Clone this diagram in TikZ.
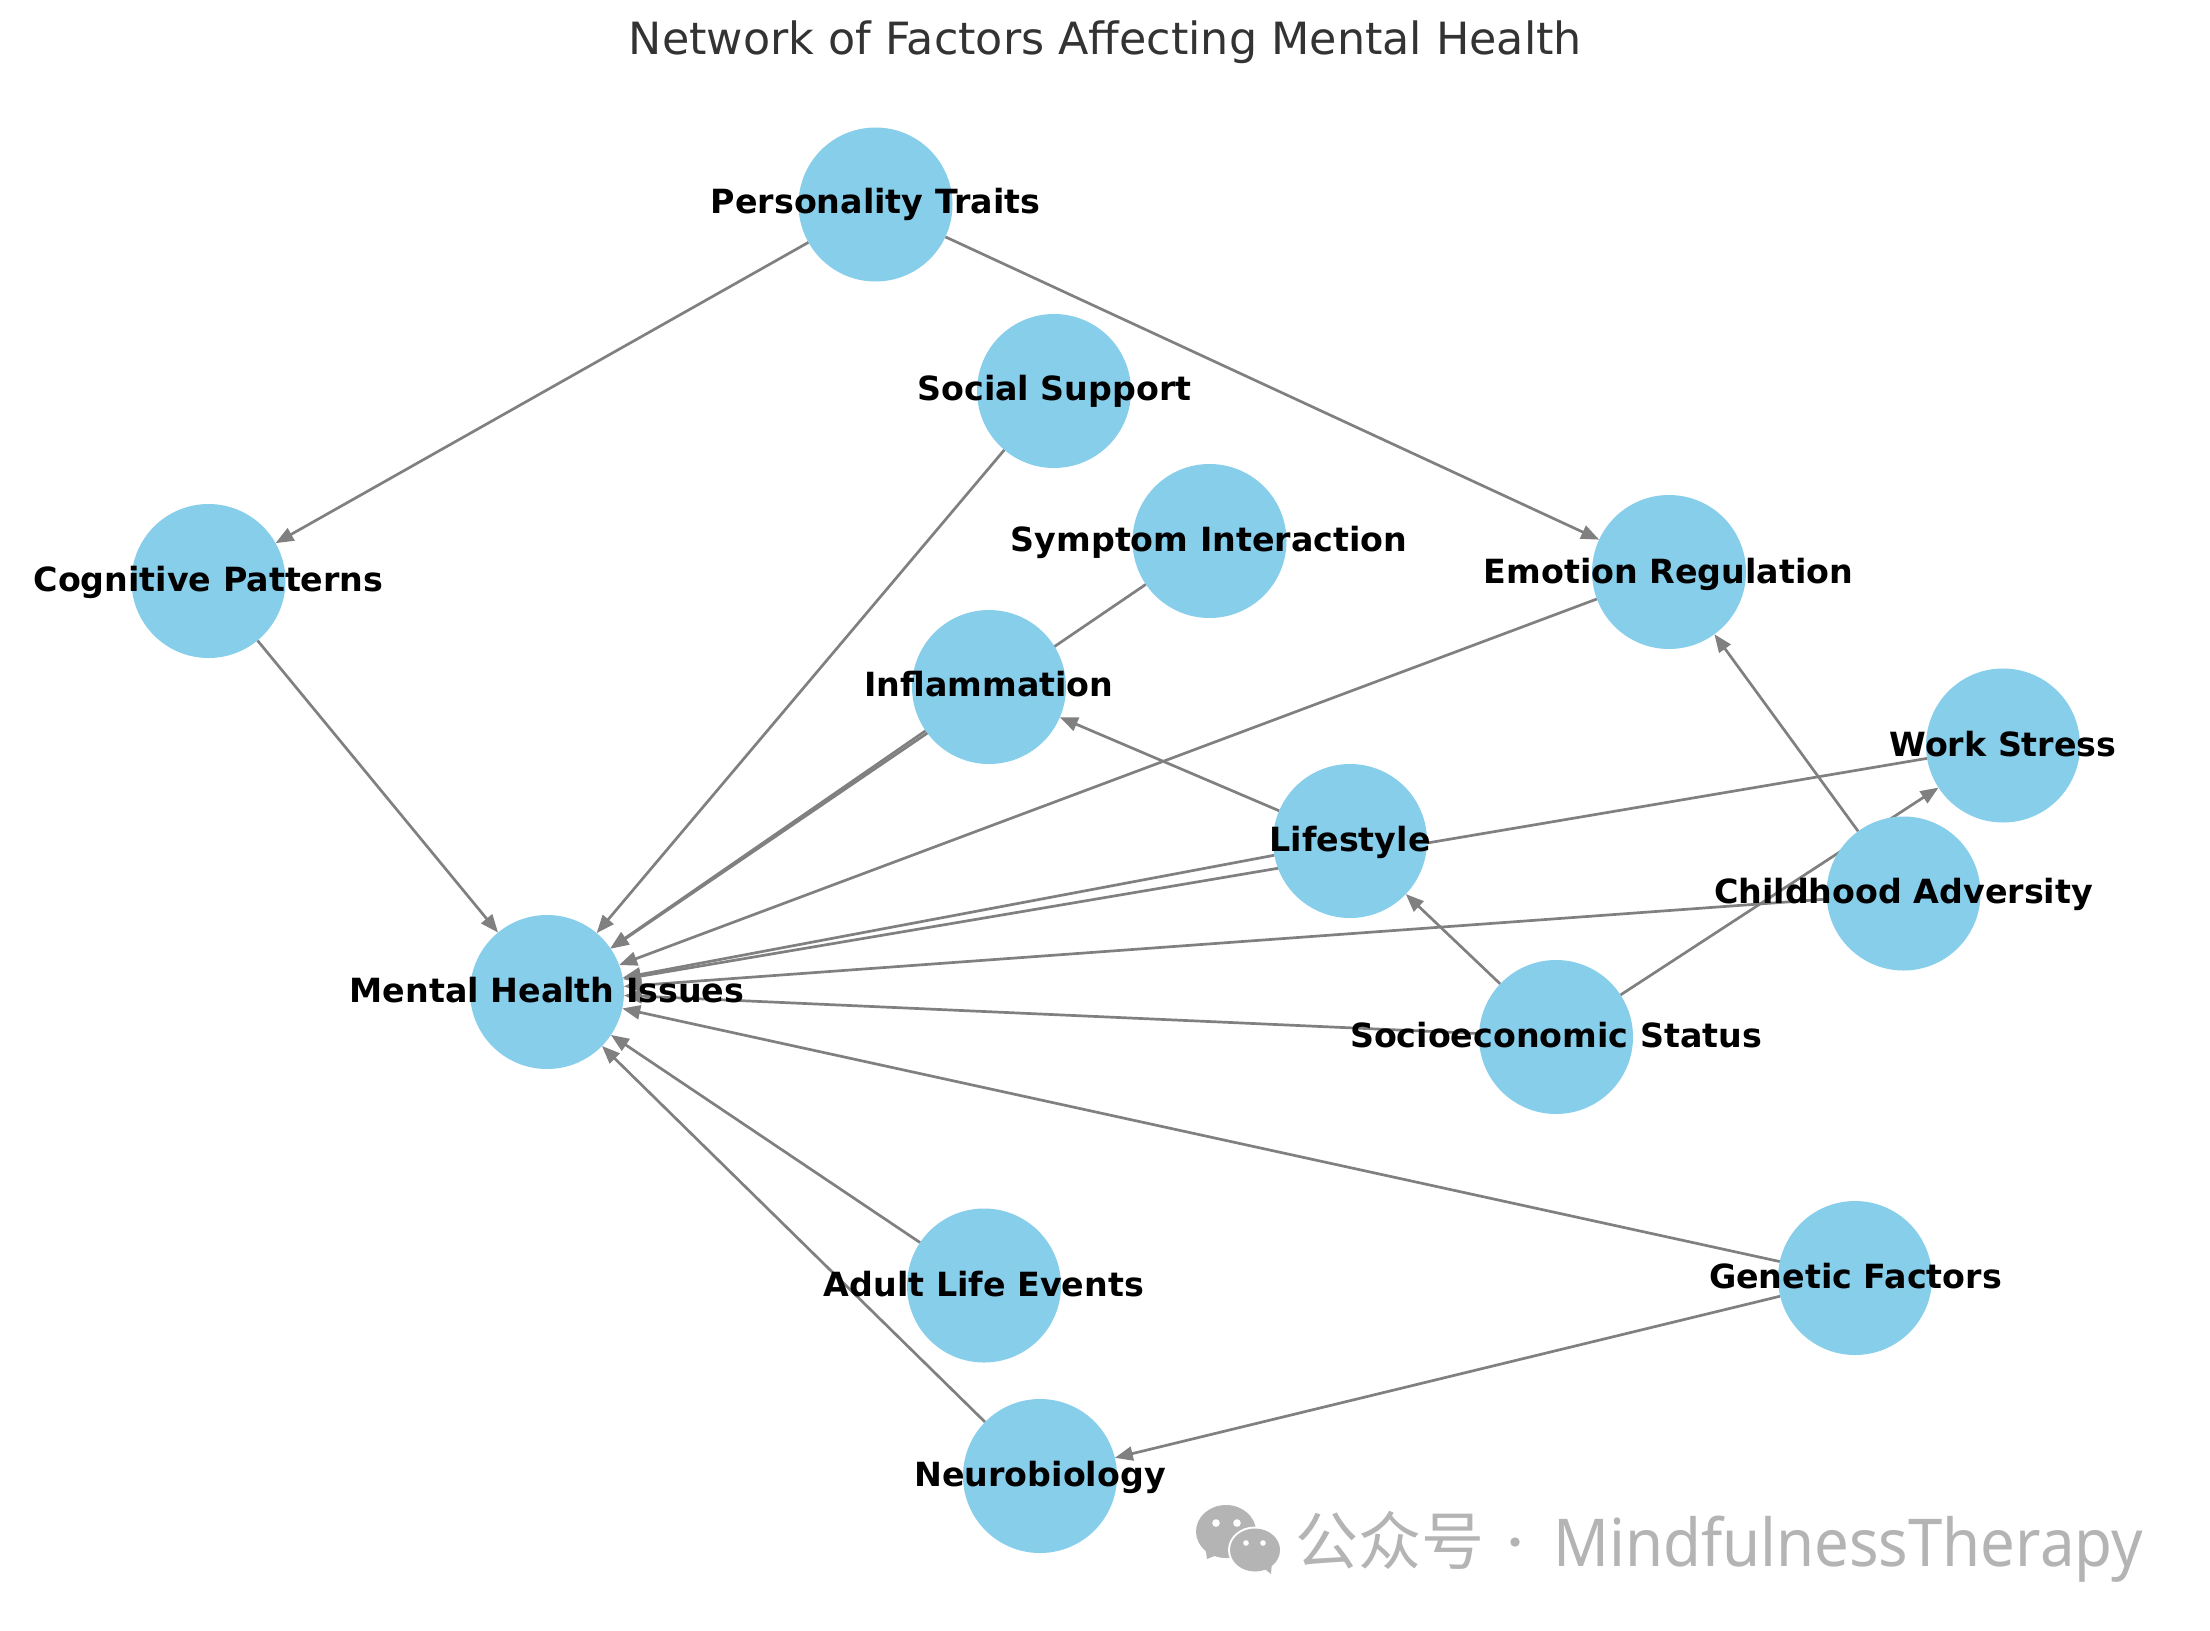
\documentclass[tikz,border=0pt]{standalone}
\usepackage{fontspec}
\setmainfont{DejaVu Sans}
\newfontfamily\cjkfont{Noto Sans CJK SC}
\newfontfamily\wmfont{Noto Sans}
\usetikzlibrary{arrows.meta}
\pgfdeclarelayer{edgelayer}
\pgfdeclarelayer{labellayer}
\pgfsetlayers{edgelayer,main,labellayer}
\definecolor{nodeblue}{HTML}{87CEEB}
\definecolor{edgegray}{HTML}{808080}
\definecolor{wmgray}{HTML}{B4B4B4}
\tikzset{
  factor/.style={circle,fill=nodeblue,draw=none,inner sep=0pt,outer sep=0pt,minimum size=154pt},
  lab/.style={font=\fontsize{33.3}{40}\selectfont\bfseries,text=black,inner sep=0pt,anchor=center},
  link/.style={draw=edgegray,line width=2.7pt,-{Stealth[length=18pt,width=14pt,inset=0pt]}},
  wm/.style={inner sep=0pt,text=wmgray,anchor=base west},
  bubble/.style={fill=wmgray,draw=none},
}
\begin{document}
\begin{tikzpicture}[x=1pt,y=-1pt]
\useasboundingbox (0,0) rectangle (2210,1630);
\node[font=\fontsize{44.4}{52}\selectfont,text=black!80,inner sep=0pt] (title) at (1105.5,42) {Network of Factors Affecting Mental Health};
\node[factor] (pt) at (875.5,204.5) {};
\node[factor] (ss) at (1054,391) {};
\node[factor] (si) at (1209.5,541) {};
\node[factor] (cp) at (208.5,581) {};
\node[factor] (er) at (1669,572) {};
\node[factor] (in) at (989,687) {};
\node[factor] (ws) at (2003,745.5) {};
\node[factor] (ls) at (1350,841) {};
\node[factor] (ca) at (1903.5,893.5) {};
\node[factor] (mh) at (547,992) {};
\node[factor] (se) at (1556,1037) {};
\node[factor] (al) at (984,1285.5) {};
\node[factor] (gf) at (1855,1278) {};
\node[factor] (nb) at (1040,1476) {};
\begin{pgfonlayer}{edgelayer}
\fill[white] (0,0) rectangle (2210,1630);
\draw[link] (pt) -- (cp);
\draw[link] (pt) -- (er);
\draw[link] (ss) -- (mh);
\draw[link] (si) -- (mh);
\draw[link] (cp) -- (mh);
\draw[link] (er) -- (mh);
\draw[link] (in) -- (mh);
\draw[link] (ws) -- (mh);
\draw[link] (ls) -- (mh);
\draw[link] (ls) -- (in);
\draw[link] (ca) -- (mh);
\draw[link] (ca) -- (er);
\draw[link] (se) -- (ws);
\draw[link] (se) -- (ls);
\draw[link] (se) -- (mh);
\draw[link] (gf) -- (mh);
\draw[link] (gf) -- (nb);
\draw[link] (al) -- (mh);
\draw[link] (nb) -- (mh);
\end{pgfonlayer}
\begin{pgfonlayer}{labellayer}
\node[lab] (lpt) at (875.5,204.5) {Personality Traits};
\node[lab] (lss) at (1054.5,391.5) {Social Support};
\node[lab] (lsi) at (1209,542.5) {Symptom Interaction};
\node[lab] (lcp) at (208.5,582.5) {Cognitive Patterns};
\node[lab] (ler) at (1668.5,574) {Emotion Regulation};
\node[lab] (lin) at (989,684) {Inflammation};
\node[lab] (lws) at (2003,744.5) {Work Stress};
\node[lab] (lls) at (1350,842) {Lifestyle};
\node[lab] (lca) at (1903.5,894) {Childhood Adversity};
\node[lab] (lmh) at (547,990) {Mental Health Issues};
\node[lab] (lse) at (1556,1035) {Socioeconomic Status};
\node[lab] (lal) at (984,1284) {Adult Life Events};
\node[lab] (lgf) at (1855.5,1276) {Genetic Factors};
\node[lab] (lnb) at (1040,1477.5) {Neurobiology};
\end{pgfonlayer}
% watermark
\fill[bubble] (1226,1531.5) ellipse (30 and 26.5);
\fill[bubble] (1205,1545) -- (1207,1559) -- (1224,1552) -- cycle;
\fill[white] (1216,1523) circle (3.8) (1237,1523) circle (3.8);
\fill[white] (1255,1550) ellipse (27 and 23.5);
\fill[bubble] (1255,1550) ellipse (25 and 21.5);
\fill[bubble] (1260,1565) -- (1271,1574) -- (1272,1562) -- cycle;
\fill[white] (1246,1543) circle (2.8) (1263,1543) circle (2.8);
\node[wm,font=\cjkfont\fontsize{63}{70}\selectfont] (wmc) at (1295,1564) {公众号};
\fill[wmgray] (1515,1542) circle (4.7);
\node[wm,font=\wmfont\fontsize{66}{76}\selectfont,xscale=0.935] (wmt) at (1553,1566) {MindfulnessTherapy};
\end{tikzpicture}
\end{document}
